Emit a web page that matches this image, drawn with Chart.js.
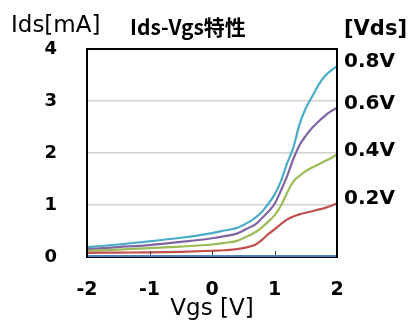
<!DOCTYPE html>
<html>
<head>
<meta charset="utf-8">
<script src="https://cdn.jsdelivr.net/npm/chart.js@4"></script>
<style>
html,body{margin:0;padding:0;background:#fff;}
#wrap{width:411px;height:323px;position:relative;}
</style>
</head>
<body>
<div id="wrap"><canvas id="c" width="411" height="323"></canvas></div>
<script>
// ---- data ----
const vgs = [-2,-1.5,-1,-0.5,0,0.2,0.4,0.6,0.7,0.8,0.9,1.0,1.1,1.2,1.3,1.4,1.5,1.6,1.7,1.8,1.9,2.0];
const ids08 = [0.19,0.24,0.30,0.37,0.46,0.51,0.56,0.68,0.76,0.87,1.02,1.20,1.45,1.80,2.10,2.55,2.86,3.08,3.30,3.47,3.58,3.67];
const ids06 = [0.15,0.19,0.23,0.29,0.36,0.40,0.45,0.57,0.63,0.75,0.87,1.02,1.27,1.55,1.88,2.15,2.33,2.48,2.60,2.71,2.80,2.87];
const ids04 = [0.12,0.14,0.17,0.20,0.24,0.27,0.31,0.42,0.48,0.57,0.68,0.80,0.98,1.23,1.45,1.56,1.65,1.72,1.78,1.84,1.90,1.97];
const ids02 = [0.08,0.085,0.09,0.10,0.12,0.13,0.15,0.20,0.24,0.33,0.44,0.53,0.63,0.72,0.78,0.82,0.85,0.88,0.91,0.94,0.98,1.03];
const ids00 = [0,0,0,0,0,0,0,0,0,0,0,0,0,0,0,0,0,0,0,0,0,0];
const seriesNames = ['0V','0.2V','0.4V','0.6V','0.8V'];
const seriesData = [ids00, ids02, ids04, ids06, ids08];
const seriesColors = ['rgb(79,129,189)','rgb(192,80,77)','rgb(155,187,89)','rgb(128,100,162)','rgb(75,172,198)'];
const xTicks = [-2,-1,0,1,2];
const yTicks = [0,1,2,3,4];
const titleText = 'Ids-Vgs特性';
const yTitle = 'Ids[mA]';
const xTitle = 'Vgs [V]';
const legendTitle = '[Vds]';

const datasets = seriesData.map((arr,i)=>({
  label: seriesNames[i],
  data: vgs.map((x,j)=>({x:x,y:arr[j]})),
  borderColor: seriesColors[i],
  backgroundColor: seriesColors[i],
  borderWidth: 2.2,
  pointRadius: 0,
  cubicInterpolationMode: 'monotone',
  fill: false,
  clip: false
}));

const extras = {
  id: 'extras',
  afterDraw(chart){
    const ctx = chart.ctx;
    const xs = chart.scales.x, ys = chart.scales.y;
    const L = Math.round(xs.getPixelForValue(-2));
    const R = Math.round(xs.getPixelForValue(2));
    const T = Math.round(ys.getPixelForValue(4));
    const B = Math.round(ys.getPixelForValue(0));
    ctx.save();
    ctx.fillStyle = 'rgb(0,0,0)';
    ctx.textBaseline = 'alphabetic';
    ctx.textAlign = 'left';
    ctx.font = '23px "DejaVu Sans"';
    ctx.fillText(yTitle, 11, 32);
    ctx.font = 'bold 21px "DejaVu Sans"';
    ctx.fillText(legendTitle, 344, 35);
    ctx.font = 'bold 20px "DejaVu Sans"';
    for (let i=1;i<seriesData.length;i++){
      const arr = seriesData[i];
      const py = ys.getPixelForValue(arr[arr.length-1]);
      ctx.fillText(seriesNames[i], 344, py+1);
    }
    ctx.font = 'bold 21px "Noto Sans CJK JP"';
    ctx.fillText(titleText, 130, 35);
    // frame
    ctx.fillStyle = 'rgb(0,0,0)';
    ctx.fillRect(L-1, T-1, R-L+2, 2);
    ctx.fillRect(L-1, B-1, R-L+2, 2);
    ctx.fillRect(L-1, T-1, 2, B-T+2);
    ctx.fillRect(R-1, T-1, 2, B-T+2);
    // inner x tick marks
    ctx.fillStyle = 'rgb(60,60,60)';
    xTicks.slice(1,-1).forEach(v=>{
      const px = Math.round(xs.getPixelForValue(v));
      ctx.fillRect(px, B-6, 1, 6);
    });
    // 0V series on top of the bottom border
    ctx.fillStyle = seriesColors[0];
    const y0 = Math.round(ys.getPixelForValue(ids00[0]));
    ctx.fillRect(L+1, y0-2, R-L-2, 2);
    ctx.restore();
  }
};

new Chart(document.getElementById('c'), {
  type: 'line',
  data: { datasets },
  options: {
    responsive: false,
    animation: false,
    devicePixelRatio: 1,
    layout: { padding: { left: 0, right: 74, top: 49, bottom: 0 } },
    plugins: { legend: { display: false }, tooltip: { enabled: false }, title: { display: false } },
    scales: {
      x: {
        type: 'linear', min: -2, max: 2,
        afterFit(s){ s.height = 66; },
        afterBuildTicks(s){ s.ticks = xTicks.map(v=>({value:v})); },
        grid: { display: false, drawTicks: false },
        border: { display: false },
        ticks: { padding: 22, color: 'rgb(0,0,0)', font: { family: 'DejaVu Sans', size: 19, weight: 'bold' }, maxRotation: 0 },
        title: { display: true, text: xTitle, color: 'rgb(0,0,0)', font: { family: 'DejaVu Sans', size: 23 }, padding: { top: 0, bottom: 0 } }
      },
      y: {
        type: 'linear', min: 0, max: 4,
        afterFit(s){ s.width = 87; },
        afterBuildTicks(s){ s.ticks = yTicks.map(v=>({value:v})); },
        grid: { color: 'rgb(208,208,208)', lineWidth: 1.5, drawTicks: false },
        border: { display: false },
        ticks: { padding: 30, color: 'rgb(0,0,0)', font: { family: 'DejaVu Sans', size: 18, weight: 'bold' } }
      }
    }
  },
  plugins: [extras]
});
</script>
</body>
</html>
